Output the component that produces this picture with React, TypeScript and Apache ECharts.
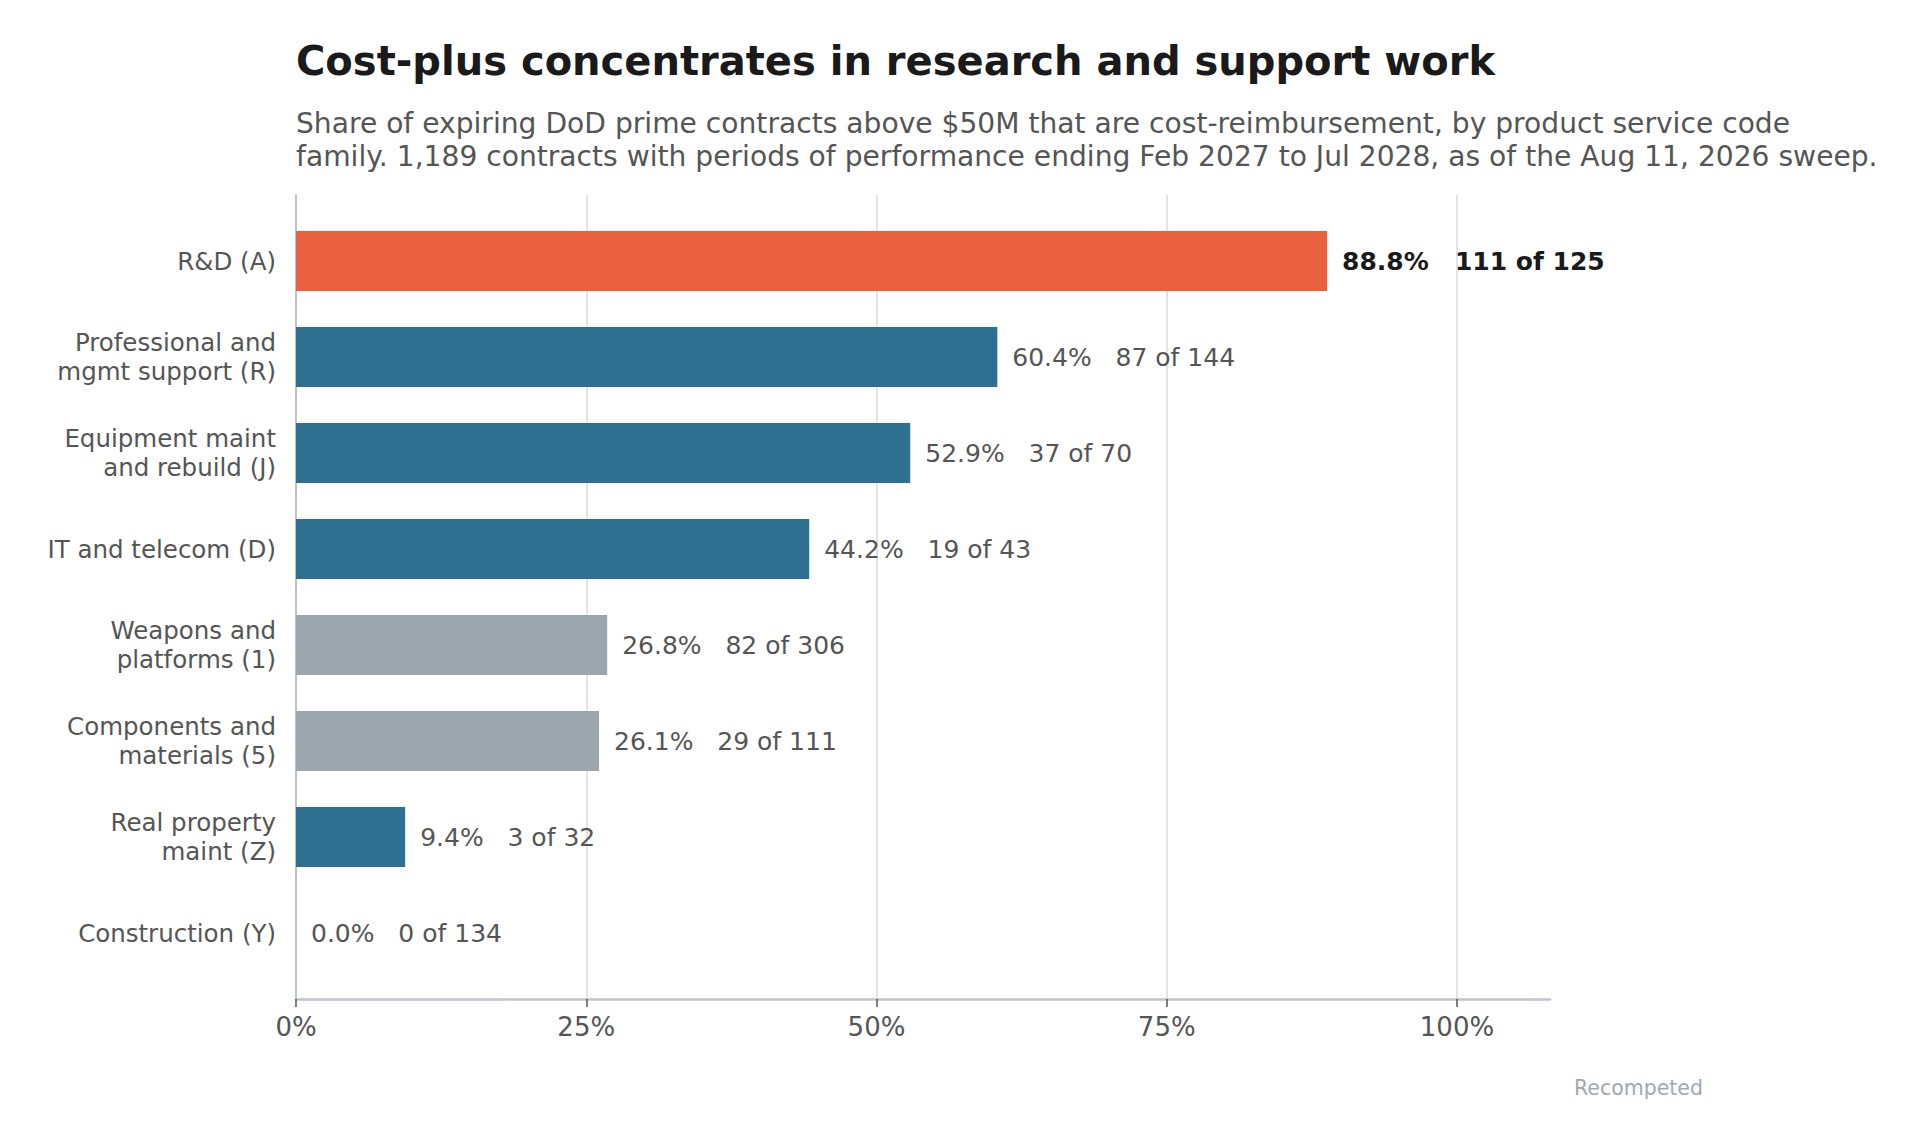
import React, { useEffect, useRef } from "react";
import * as echarts from "echarts";

const categories = [
  "R&D (A)",
  "Professional and\nmgmt support (R)",
  "Equipment maint\nand rebuild (J)",
  "IT and telecom (D)",
  "Weapons and\nplatforms (1)",
  "Components and\nmaterials (5)",
  "Real property\nmaint (Z)",
  "Construction (Y)",
];
const sharePct = [88.8, 60.4, 52.9, 44.2, 26.8, 26.1, 9.4, 0.0];
const costPlusCounts = [111, 87, 37, 19, 82, 29, 3, 0];
const totalCounts = [125, 144, 70, 43, 306, 111, 32, 134];
const colorGroups = ["highlight", "blue", "blue", "blue", "gray", "gray", "blue", "blue"];
const xTickValues = [0, 25, 50, 75, 100];

const TITLE = "Cost-plus concentrates in research and support work";
const SUBTITLE =
  "Share of expiring DoD prime contracts above $50M that are cost-reimbursement, by product service code\nfamily. 1,189 contracts with periods of performance ending Feb 2027 to Jul 2028, as of the Aug 11, 2026 sweep.";
const NOTE = "Recompeted";

const FONT = "'DejaVu Sans', Verdana, sans-serif";
const COLORS: Record<string, string> = {
  highlight: "#e8603e",
  blue: "#2e708f",
  gray: "#9ca6ae",
};
const AXIS_COLOR = "#bcc4cc";
const TEXT_GRAY = "#555555";

export default function App() {
  const ref = useRef<HTMLDivElement>(null);

  useEffect(() => {
    if (!ref.current) return;
    const chart = echarts.init(ref.current, undefined, { renderer: "svg" });

    const left = 296;
    const plotTop = 195;
    const plotH = 804;
    const rightFull = 373; // x max 108
    const right100 = 466; // x max 100

    const barData = sharePct.map((v, i) => {
      const hl = colorGroups[i] === "highlight";
      return {
        value: v,
        itemStyle: { color: COLORS[colorGroups[i]] },
        label: hl
          ? { fontWeight: "bold", color: "#1a1a1a" }
          : { fontWeight: "normal", color: TEXT_GRAY },
      };
    });

    const option: any = {
      animation: false,
      backgroundColor: "#ffffff",
      textStyle: { fontFamily: FONT },
      grid: [
        { left, right: rightFull, top: plotTop, height: plotH, containLabel: false },
        { left, right: right100, top: plotTop, height: plotH, containLabel: false },
        { left, right: rightFull, top: 213, height: 768, containLabel: false },
      ],
      xAxis: [
        {
          gridIndex: 0,
          type: "value",
          min: 0,
          max: 108,
          axisLine: { show: true, lineStyle: { color: AXIS_COLOR, width: 2.5 } },
          axisTick: { show: false },
          axisLabel: { show: false },
          splitLine: { show: false },
        },
        {
          gridIndex: 1,
          type: "value",
          min: 0,
          max: 100,
          interval: 25,
          axisLine: { show: false },
          axisTick: { show: true, length: 8, lineStyle: { color: TEXT_GRAY, width: 1.5 } },
          axisLabel: {
            show: true,
            formatter: (v: number) => (xTickValues.includes(v) ? `${v}%` : ""),
            fontSize: 26,
            fontFamily: FONT,
            color: TEXT_GRAY,
            margin: 15,
          },
          splitLine: {
            show: true,
            lineStyle: {
              color: ["rgba(0,0,0,0)", "#e3e3e3", "#e3e3e3", "#e3e3e3", "#e3e3e3"],
              width: 2,
            },
          },
        },
        {
          gridIndex: 2,
          type: "value",
          min: 0,
          max: 108,
          show: false,
        },
      ],
      yAxis: [
        {
          gridIndex: 0,
          type: "value",
          min: 0,
          max: 1,
          axisLine: { show: true, lineStyle: { color: AXIS_COLOR, width: 2 } },
          axisTick: { show: false },
          axisLabel: { show: false },
          splitLine: { show: false },
        },
        {
          gridIndex: 1,
          type: "value",
          min: 0,
          max: 1,
          show: false,
        },
        {
          gridIndex: 2,
          type: "category",
          inverse: true,
          data: categories,
          axisLine: { show: false },
          axisTick: { show: false },
          axisLabel: {
            show: true,
            fontSize: 24.5,
            lineHeight: 29,
            fontFamily: FONT,
            color: TEXT_GRAY,
            margin: 20,
            align: "right",
          },
          splitLine: { show: false },
        },
      ],
      series: [
        {
          type: "bar",
          xAxisIndex: 2,
          yAxisIndex: 2,
          data: barData,
          barWidth: 60,
          label: {
            show: true,
            position: "right",
            distance: 15,
            fontSize: 25,
            fontFamily: FONT,
            formatter: (p: any) =>
              `${sharePct[p.dataIndex].toFixed(1)}%   ${costPlusCounts[p.dataIndex]} of ${totalCounts[p.dataIndex]}`,
          },
        },
      ],
      graphic: [
        {
          type: "text",
          x: 296,
          y: 61,
          style: {
            text: TITLE,
            fontSize: 40,
            fontWeight: "bold",
            fontFamily: FONT,
            fill: "#1a1a1a",
            align: "left",
            verticalAlign: "middle",
          },
        },
        {
          type: "text",
          x: 296,
          y: 140,
          style: {
            text: SUBTITLE,
            fontSize: 28.15,
            lineHeight: 33,
            fontFamily: FONT,
            fill: TEXT_GRAY,
            align: "left",
            verticalAlign: "middle",
          },
        },
        {
          type: "text",
          x: 1703,
          y: 1088,
          style: {
            text: NOTE,
            fontSize: 20.5,
            fontFamily: FONT,
            fill: "#a0a9b2",
            align: "right",
            verticalAlign: "middle",
          },
        },
      ],
    };

    chart.setOption(option);
    return () => chart.dispose();
  }, []);

  return (
    <div
      ref={ref}
      style={{ position: "fixed", left: 0, top: 0, width: 1923, height: 1146, background: "#ffffff" }}
    />
  );
}
